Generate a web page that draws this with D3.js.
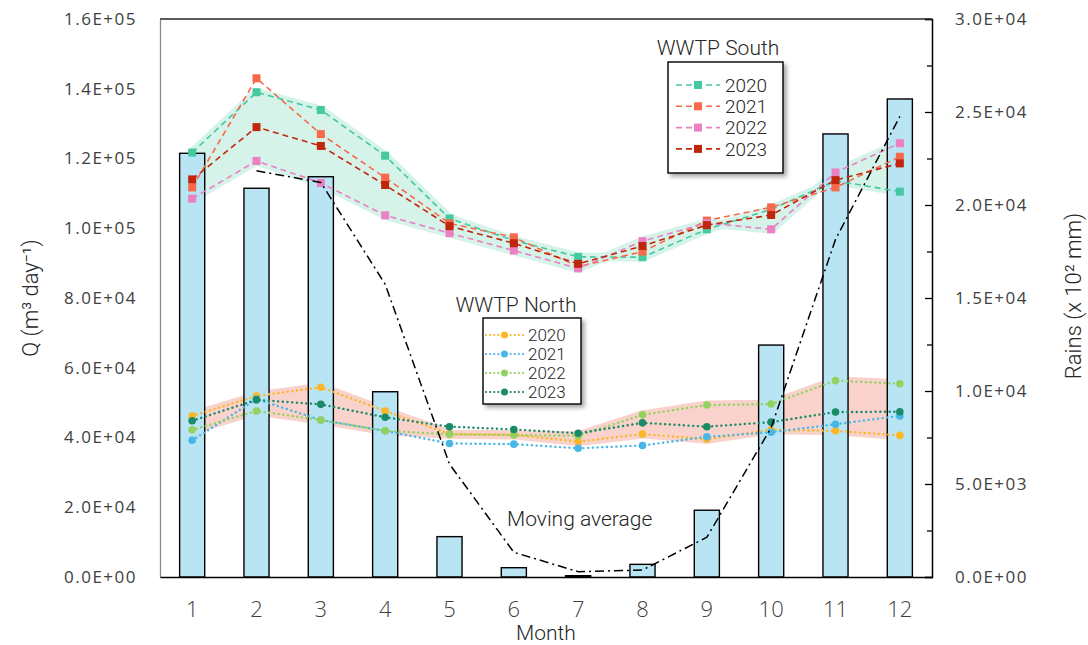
<!DOCTYPE html>
<html>
<head>
<meta charset="utf-8">
<script src="https://cdn.jsdelivr.net/npm/d3@7"></script>
<style>
  body { margin: 0; background: #fff; }
  .lab { font-family: Roboto, "Open Sans", sans-serif; font-weight: 300; fill: #262626; }
  .tick text { font-family: "Open Sans", sans-serif; fill: #404040; }
</style>
</head>
<body>
<div id="chart"></div>
<script>
// months on the x axis
var months = [1, 2, 3, 4, 5, 6, 7, 8, 9, 10, 11, 12];

// rain (right axis) and its moving average
var rain    = [22780, 20900, 21520, 9960, 2170, 500, 70, 680, 3590, 12470, 23820, 25700];
var rainAvg = [null, 21840, 21210, 15740, 6070, 1330, 285, 375, 2135, 8030, 18150, 24760];

// WWTP South flow (left axis)
var south2020 = [121700, 139000, 133900, 120800, 102800, 96500, 91800, 91700, 99700, 105400, 113600, 110500];
var south2021 = [111700, 143000, 127000, 114500, 101400, 97400, 89000, 93300, 102200, 106000, 111700, 120500];
var south2022 = [108500, 119300, 113000, 103700, 98600, 93600, 88500, 96300, 101500, 99700, 116000, 124400];
var south2023 = [114000, 129000, 123600, 112400, 100600, 95700, 89800, 94900, 100900, 103800, 113800, 118600];

// WWTP North flow (left axis)
var north2020 = [46200, 51900, 54400, 47600, 41000, 40800, 38800, 41000, 39500, 42200, 41900, 40600];
var north2021 = [39200, 51000, 45000, 41900, 38300, 38100, 36900, 37700, 40200, 41500, 43800, 46200];
var north2022 = [42200, 47600, 45000, 41900, 40900, 40700, 40500, 46500, 49300, 49600, 56300, 55400];
var north2023 = [44800, 50800, 49500, 45800, 43100, 42300, 41200, 44200, 43100, 44400, 47300, 47400];

var years = ["2020", "2021", "2022", "2023"];
var southColors = ["#45c9a1", "#f8694b", "#eb80c2", "#c0260c"];
var northColors = ["#fbb726", "#47b7e8", "#93d25f", "#1b8a67"];

var leftTicks  = [0, 20000, 40000, 60000, 80000, 100000, 120000, 140000, 160000];
var rightTicks = [0, 5000, 10000, 15000, 20000, 25000, 30000];
var rightMinor = [2500, 7500, 12500, 17500, 22500, 27500];

var w = 1088, h = 645;
var pL = 160, pR = 932, pT = 19, pB = 577;

var svg = d3.select("#chart").append("svg")
    .attr("width", w)
    .attr("height", h);

var defs = svg.append("defs");
var shadow = defs.append("filter").attr("id", "shadow")
    .attr("x", "-20%").attr("y", "-20%").attr("width", "150%").attr("height", "150%");
shadow.append("feDropShadow")
    .attr("dx", 3).attr("dy", 3).attr("stdDeviation", 2)
    .attr("flood-color", "#000").attr("flood-opacity", 0.35);

var x = d3.scaleBand().domain(months).range([pL, pR]);
var cx = function(m) { return x(m) + x.bandwidth() / 2; };
var yL = d3.scaleLinear().domain([0, 160000]).range([pB, pT]);
var yR = d3.scaleLinear().domain([0, 30000]).range([pB, pT]);

function sci(v) {
  var p = v.toExponential(1).toUpperCase().split("E");
  var e = +p[1];
  return p[0] + "E" + (e < 0 ? "-" : "+") + String(Math.abs(e)).padStart(2, "0");
}

// shaded bands between 2020 and 2022 (a bit wider than the lines)
function band(a, b, color) {
  var area = d3.area()
      .x(function(d, i) { return cx(months[i]); })
      .y0(function(d, i) { return yL(b[i]); })
      .y1(function(d) { return yL(d); });
  svg.append("path").datum(a)
      .attr("d", area)
      .attr("fill", color)
      .attr("stroke", color)
      .attr("stroke-width", 9)
      .attr("stroke-linejoin", "round");
}
band(south2020, south2022, "#d6f3ea");
band(north2020, north2022, "#f9d2cb");

// rain bars
var barW = x.bandwidth() * 0.39;
svg.selectAll(".bar")
    .data(rain)
    .enter()
    .append("rect")
    .attr("class", "bar")
    .attr("x", function(d, i) { return cx(months[i]) - barW / 2; })
    .attr("y", function(d) { return yR(d); })
    .attr("width", barW)
    .attr("height", function(d) { return pB - yR(d); })
    .attr("fill", "#b9e4f4")
    .attr("stroke", "#000")
    .attr("stroke-width", 1.4);

// series lines
var southSeries = [south2020, south2021, south2022, south2023];
var northSeries = [north2020, north2021, north2022, north2023];

var lineL = d3.line()
    .x(function(d, i) { return cx(months[i]); })
    .y(function(d) { return yL(d); });

northSeries.forEach(function(s, k) {
  svg.append("path").datum(s)
      .attr("d", lineL)
      .attr("fill", "none")
      .attr("stroke", northColors[k])
      .attr("stroke-width", 2.4)
      .attr("stroke-linecap", "round")
      .attr("stroke-dasharray", "0.1,4.6");
  svg.selectAll(".nm" + k)
      .data(s)
      .enter()
      .append("circle")
      .attr("cx", function(d, i) { return cx(months[i]); })
      .attr("cy", function(d) { return yL(d); })
      .attr("r", 3.8)
      .attr("fill", northColors[k]);
});

southSeries.forEach(function(s, k) {
  svg.append("path").datum(s)
      .attr("d", lineL)
      .attr("fill", "none")
      .attr("stroke", southColors[k])
      .attr("stroke-width", 1.6)
      .attr("stroke-dasharray", "6,4");
  svg.selectAll(".sm" + k)
      .data(s)
      .enter()
      .append("rect")
      .attr("x", function(d, i) { return cx(months[i]) - 4; })
      .attr("y", function(d) { return yL(d) - 4; })
      .attr("width", 8)
      .attr("height", 8)
      .attr("fill", southColors[k]);
});

// moving average of rain
var lineR = d3.line()
    .defined(function(d) { return d != null; })
    .x(function(d, i) { return cx(months[i]); })
    .y(function(d) { return yR(d); });
svg.append("path").datum(rainAvg)
    .attr("d", lineR)
    .attr("fill", "none")
    .attr("stroke", "#000")
    .attr("stroke-width", 1.5)
    .attr("stroke-dasharray", "9,4,2,4");

// axes
var axL = svg.append("g")
    .attr("transform", "translate(" + pL + ",0)")
    .call(d3.axisLeft(yL).tickValues(leftTicks).tickFormat(sci).tickSize(0).tickPadding(23));
axL.select(".domain").attr("stroke", "#8a8a8a").attr("stroke-width", 1.3);

var axR = svg.append("g")
    .attr("transform", "translate(" + pR + ",0)")
    .call(d3.axisRight(yR).tickValues(rightTicks).tickFormat(sci).tickSize(-7).tickPadding(23));
axR.select(".domain").attr("stroke", "#000").attr("stroke-width", 1.5);
svg.append("g")
    .attr("transform", "translate(" + pR + ",0)")
    .call(d3.axisRight(yR).tickValues(rightMinor).tickFormat("").tickSize(-5))
    .select(".domain").remove();

svg.selectAll(".tick line").attr("stroke", "#000").attr("stroke-width", 1.3);
svg.selectAll(".tick text")
    .attr("font-size", 17)
    .style("letter-spacing", "1.5px");

var axB = svg.append("g")
    .attr("transform", "translate(0," + pB + ")")
    .call(d3.axisBottom(x).tickSize(0).tickPadding(24));
axB.select(".domain").attr("stroke", "#000").attr("stroke-width", 1.5);
axB.selectAll("text")
    .attr("class", "lab")
    .attr("font-size", 22)
    .style("letter-spacing", "0px");

// top frame line
svg.append("line")
    .attr("x1", pL).attr("x2", pR)
    .attr("y1", pT).attr("y2", pT)
    .attr("stroke", "#262626").attr("stroke-width", 1.5);

// axis titles
svg.append("text").attr("class", "lab")
    .attr("transform", "translate(38,298) rotate(-90)")
    .attr("text-anchor", "middle")
    .attr("font-size", 22)
    .text("Q (m³ day⁻¹)");
svg.append("text").attr("class", "lab")
    .attr("transform", "translate(1081,296) rotate(-90)")
    .attr("text-anchor", "middle")
    .attr("font-size", 22)
    .text("Rains (x 10² mm)");
svg.append("text").attr("class", "lab")
    .attr("x", 546).attr("y", 640)
    .attr("text-anchor", "middle")
    .attr("font-size", 21)
    .text("Month");
svg.append("text").attr("class", "lab")
    .attr("x", 507).attr("y", 526)
    .attr("font-size", 21)
    .text("Moving average");

// legends
function legend(title, tx, ty, bx, by, bw, bh, y0, dy, lx0, lx1, fs, colors, south) {
  svg.append("text").attr("class", "lab")
      .attr("x", tx).attr("y", ty)
      .attr("text-anchor", "middle")
      .attr("font-size", 21)
      .text(title);
  svg.append("rect")
      .attr("x", bx).attr("y", by)
      .attr("width", bw).attr("height", bh)
      .attr("fill", "#fff")
      .attr("stroke", "#000")
      .attr("stroke-width", 1.4)
      .attr("filter", "url(#shadow)");
  var g = svg.append("g").selectAll("g")
      .data(years)
      .enter()
      .append("g")
      .attr("transform", function(d, i) { return "translate(0," + (y0 + i * dy) + ")"; });
  g.append("line")
      .attr("x1", lx0).attr("x2", lx1)
      .attr("stroke", function(d, i) { return colors[i]; })
      .attr("stroke-width", south ? 1.6 : 2.2)
      .attr("stroke-linecap", south ? "butt" : "round")
      .attr("stroke-dasharray", south ? "6,4" : "0.1,4");
  var mx = (lx0 + lx1) / 2;
  if (south) {
    g.append("rect")
        .attr("x", mx - 4).attr("y", -4)
        .attr("width", 8).attr("height", 8)
        .attr("fill", function(d, i) { return colors[i]; });
  } else {
    g.append("circle")
        .attr("cx", mx).attr("r", 3.5)
        .attr("fill", function(d, i) { return colors[i]; });
  }
  g.append("text").attr("class", "lab")
      .attr("x", lx1 + 5)
      .attr("y", fs * 0.36)
      .attr("font-size", fs)
      .text(function(d) { return d; });
}
legend("WWTP South", 718, 55, 668, 62, 115, 111, 85, 21.3, 676, 720, 19, southColors, true);
legend("WWTP North", 516, 312, 483, 318, 98, 86, 335, 19, 486, 523, 17, northColors, false);
</script>
</body>
</html>
